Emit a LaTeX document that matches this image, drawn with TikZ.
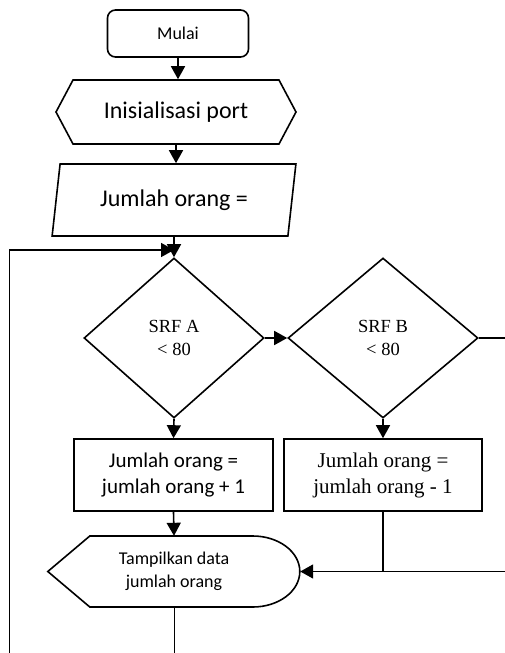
\documentclass[tikz,border=0pt]{standalone}
\usepackage{fontspec}
\setmainfont{Carlito}
\newfontfamily\timesfont{Liberation Serif}
\usetikzlibrary{shapes.geometric,shapes.symbols,arrows.meta}

\tikzset{
	box/.style={draw, line width=1.6pt, align=center, inner sep=0pt},
	flow/.style={line width=1.6pt, -{Triangle[length=13pt,width=14pt]}},
	link/.style={line width=1.6pt},
	back/.style={line width=0.9pt}
}

\begin{document}
\begin{tikzpicture}[x=1pt,y=-1pt]

	\useasboundingbox (0,0) rectangle (504,653);

	\node[box, rounded corners=8pt, minimum width=141pt, minimum height=47pt, font=\fontsize{18}{22}\selectfont] (mulai) at (178,33.5) {Mulai};
	\node[box, shape=signal, signal to=west and east, signal pointer angle=124, minimum width=240pt, minimum height=64pt, font=\fontsize{24}{29}\selectfont] (init) at (176,112) {Inisialisasi port};
	\node[box, trapezium, trapezium left angle=76, trapezium right angle=104, trapezium stretches=true, minimum width=244pt, minimum height=72pt, font=\fontsize{24}{29}\selectfont] (jumlah) at (174,200) {Jumlah orang =};

	\node[box, diamond, minimum width=180pt, minimum height=160pt, font=\timesfont\fontsize{18.5}{23}\selectfont] (srfa) at (174,338) {SRF A\\< 80};
	\node[box, diamond, minimum width=190pt, minimum height=160pt, font=\timesfont\fontsize{18.5}{23}\selectfont] (srfb) at (383,338) {SRF B\\< 80};

	\node[box, minimum width=199pt, minimum height=72pt, font=\fontsize{21}{26}\selectfont] (boxa) at (173.5,475) {Jumlah orang =\\jumlah orang + 1};
	\node[box, minimum width=198pt, minimum height=72pt, font=\timesfont\fontsize{21}{26}\selectfont] (boxb) at (383,475) {Jumlah orang =\\jumlah orang - 1};

	\node[align=center, minimum width=252pt, minimum height=71pt, inner sep=0pt, font=\fontsize{18}{23}\selectfont] (tampil) at (174,571.5) {Tampilkan data\\jumlah orang};
	\draw[link] (tampil.west) -- ++(42,-35.5) -- ++(163,0) arc[start angle=-90, end angle=90, x radius=47, y radius=35.5] -- ++(-163,0) -- cycle;

	\coordinate (kanan) at (510,338);
	\coordinate (bawah) at (174,665);
	\coordinate (kiri) at (9,250);
	\coordinate (masuk) at (174,250);

	\draw[flow] (mulai.south) -- (mulai.south |- init.north);
	\draw[flow] (init.south) -- (init.south |- jumlah.north);
	\draw[flow] (jumlah.south) -- (srfa.north);
	\draw[flow] (srfa.east) -- (srfb.west);
	\draw[flow] (srfa.south) -- (boxa.north);
	\draw[flow] (srfb.south) -- (boxb.north);
	\draw[flow] (boxa.south) -- (tampil.north);
	\draw[link] (boxb.south) -- (boxb.south |- tampil.east);
	\draw[flow] (srfb.east) -- (kanan) |- (tampil.east);

	\draw[back] (tampil.south) -- (bawah) -| (kiri);
	\draw[flow] (kiri) -- (masuk);

\end{tikzpicture}
\end{document}
